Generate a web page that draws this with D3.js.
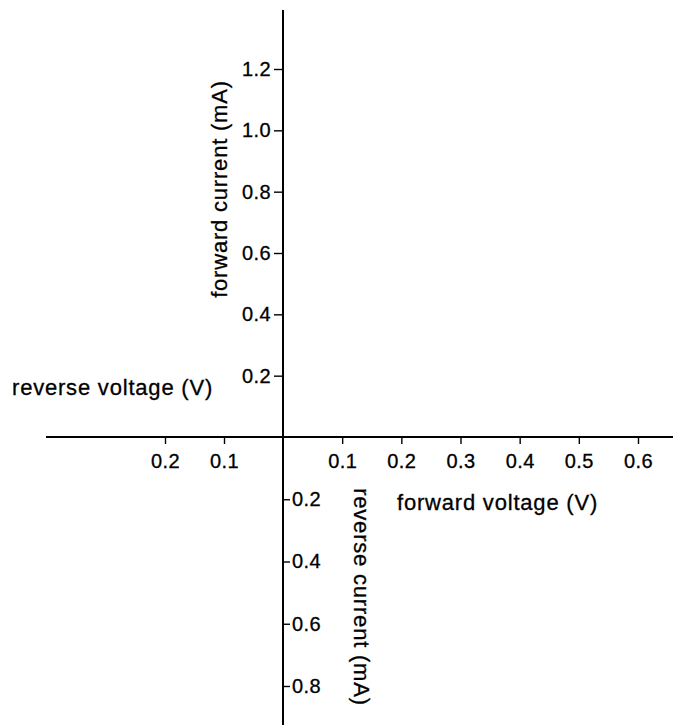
<!DOCTYPE html>
<html>
<head>
<meta charset="utf-8">
<script src="https://cdn.jsdelivr.net/npm/d3@7/dist/d3.min.js"></script>
<style>
  html, body { margin: 0; padding: 0; background: #fff; }
  svg { display: block; }
  text { font-family: "Liberation Sans", Arial, Helvetica, sans-serif; fill: #000; stroke: #000; stroke-width: 0.3px; }
</style>
</head>
<body>
<svg id="chart" width="673" height="725"></svg>
<script>
// Diode I–V quadrant axes: forward/reverse voltage and current
const forwardVoltageTicks = [0.1, 0.2, 0.3, 0.4, 0.5, 0.6];   // V
const reverseVoltageTicks = [0.1, 0.2];                        // V
const forwardCurrentTicks = [0.2, 0.4, 0.6, 0.8, 1.0, 1.2];    // mA
const reverseCurrentTicks = [0.2, 0.4, 0.6, 0.8];              // mA

const axisTitles = {
  forwardVoltage: "forward voltage (V)",
  reverseVoltage: "reverse voltage (V)",
  forwardCurrent: "forward current (mA)",
  reverseCurrent: "reverse current (mA)"
};

const W = 673, H = 725;
const svg = d3.select("#chart");

// Voltage: negative = reverse, positive = forward (piecewise linear)
const x = d3.scaleLinear().domain([-0.2, 0, 0.6]).range([165, 283, 638]);
// Current: negative = reverse, positive = forward
const y = d3.scaleLinear().domain([-0.8, 0, 1.2]).range([686, 437, 69]);

const x0 = x(0), y0 = y(0);
const fmt = d3.format(".1f");
const absFmt = d => fmt(Math.abs(d));

// Main axis lines
svg.append("line")
  .attr("x1", 46).attr("x2", W).attr("y1", y0).attr("y2", y0)
  .attr("stroke", "#000").attr("stroke-width", 2);
svg.append("line")
  .attr("x1", x0).attr("x2", x0).attr("y1", 10).attr("y2", H)
  .attr("stroke", "#000").attr("stroke-width", 2);

function styleAxis(g) {
  g.select(".domain").remove();
  g.selectAll(".tick line").attr("stroke", "#000").attr("stroke-width", 1.4);
  g.selectAll(".tick text")
    .attr("fill", "#000")
    .style("font-size", "20px")
    .style("letter-spacing", "0.4px")
    .style("font-family", "'Liberation Sans', Arial, sans-serif");
}

// Voltage ticks (below the horizontal axis)
const voltTicks = reverseVoltageTicks.map(v => -v).concat(forwardVoltageTicks);
svg.append("g")
  .attr("transform", `translate(0,${y0})`)
  .call(d3.axisBottom(x).tickValues(voltTicks).tickFormat(absFmt).tickSize(7).tickPadding(10))
  .call(styleAxis);

// Forward current ticks (left of the vertical axis)
svg.append("g")
  .attr("transform", `translate(${x0},0)`)
  .call(d3.axisLeft(y).tickValues(forwardCurrentTicks).tickFormat(fmt).tickSize(9).tickPadding(3))
  .call(styleAxis);

// Reverse current ticks (right of the vertical axis)
svg.append("g")
  .attr("transform", `translate(${x0},0)`)
  .call(d3.axisRight(y).tickValues(reverseCurrentTicks.map(v => -v)).tickFormat(absFmt).tickSize(7).tickPadding(2))
  .call(styleAxis);

// Axis titles
const titleStyle = t => t.style("font-size", "22px").style("letter-spacing", "0.8px");

svg.append("text")
  .attr("x", 397).attr("y", 510)
  .text(axisTitles.forwardVoltage)
  .call(titleStyle);

svg.append("text")
  .attr("x", 12).attr("y", 395)
  .text(axisTitles.reverseVoltage)
  .call(titleStyle);

svg.append("text")
  .attr("transform", `translate(227,189) rotate(-90)`)
  .attr("text-anchor", "middle")
  .text(axisTitles.forwardCurrent)
  .call(titleStyle);

svg.append("text")
  .attr("transform", `translate(354,597) rotate(90)`)
  .attr("text-anchor", "middle")
  .text(axisTitles.reverseCurrent)
  .call(titleStyle);
</script>
</body>
</html>
